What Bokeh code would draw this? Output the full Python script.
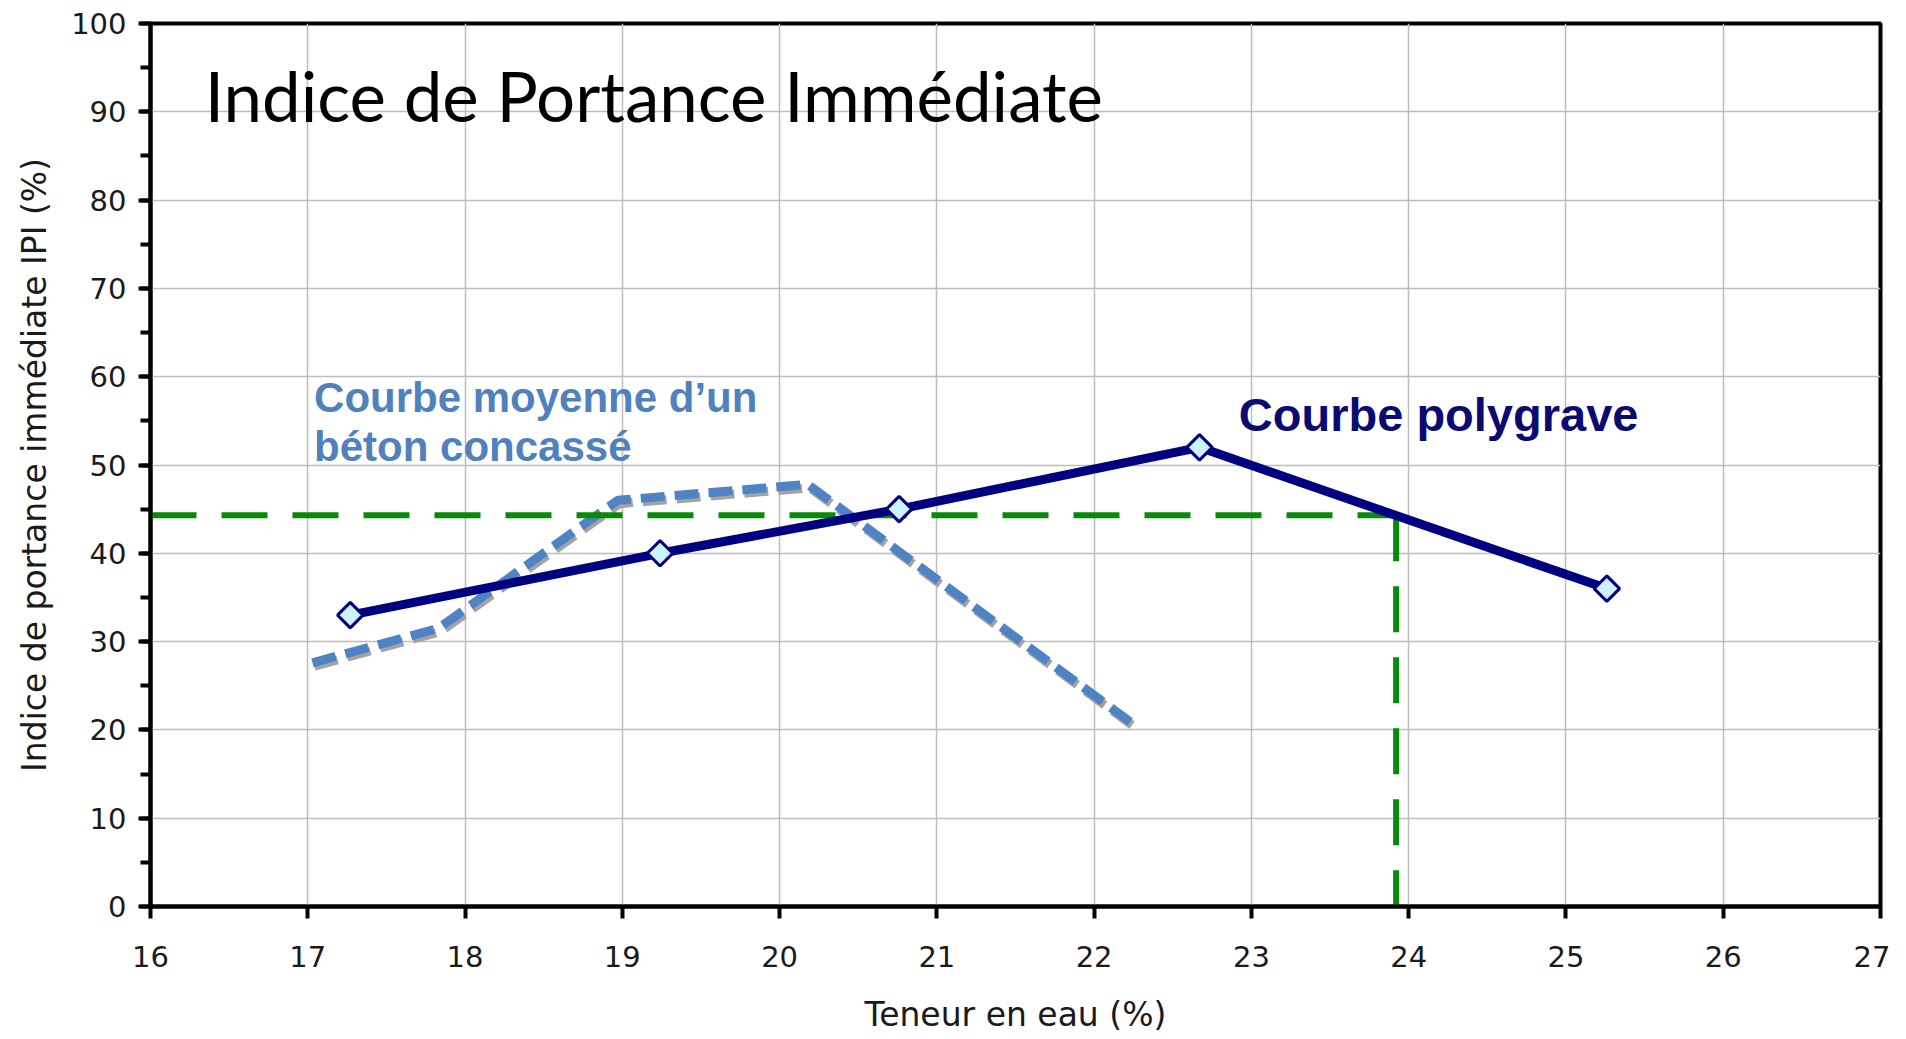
from bokeh.plotting import figure
from bokeh.models import Range1d, FixedTicker, SingleIntervalTicker, Label
from bokeh.embed import file_html
from bokeh.resources import INLINE
import math

# ---- data ----
x_ticks = [16, 17, 18, 19, 20, 21, 22, 23, 24, 25, 26, 27]
y_ticks = [0, 10, 20, 30, 40, 50, 60, 70, 80, 90, 100]

poly_x = [17.27, 19.24, 20.76, 22.67, 25.26]
poly_y = [33.0, 40.0, 45.0, 52.0, 36.0]

beton_x = [17.03, 17.83, 18.97, 20.18, 22.23]
beton_y = [27.6, 31.5, 46.0, 47.8, 20.9]

# green reference: horizontal segment then vertical segment
ref_xs = [[16.0, 23.92], [23.92, 23.92]]
ref_ys = [[44.3, 44.3], [44.3, 0.0]]

title_text = "Indice de Portance Immédiate"
label_beton = ["Courbe moyenne d\u2019un", "béton concassé"]
label_poly = "Courbe polygrave"

p = figure(width=1890, height=1039, output_backend="svg", toolbar_location=None,
           x_range=Range1d(16, 27), y_range=Range1d(0, 100),
           min_border_left=150, min_border_right=10, min_border_top=23, min_border_bottom=133)
p.background_fill_color = "white"
p.border_fill_color = "white"
p.outline_line_color = "black"
p.outline_line_width = 4

# shadow ranges (shift the same data a few pixels right/down)
p.extra_x_ranges = {"shadow": Range1d(15.988, 26.988)}
p.extra_y_ranges = {"shadow": Range1d(0.38, 100.38)}

p.xaxis.ticker = FixedTicker(ticks=x_ticks)
p.yaxis.ticker = SingleIntervalTicker(interval=10, num_minor_ticks=2)

for ax in (p.xaxis, p.yaxis):
    ax.axis_line_color = "black"
    ax.axis_line_width = 4
    ax.major_tick_line_color = "black"
    ax.major_tick_line_width = 4
    ax.major_tick_in = 0
    ax.major_tick_out = 12
    ax.minor_tick_line_color = "black"
    ax.minor_tick_line_width = 4
    ax.minor_tick_in = 0
    ax.minor_tick_out = 10
    ax.major_label_text_font = "DejaVu Sans"
    ax.major_label_text_font_size = "29px"
    ax.major_label_text_color = "#1a1a1a"
    ax.axis_label_text_font = "DejaVu Sans"
    ax.axis_label_text_font_size = "33px"
    ax.axis_label_text_font_style = "normal"
    ax.axis_label_text_color = "#1a1a1a"

p.xaxis.minor_tick_line_color = None
p.xaxis.major_label_standoff = 27
p.yaxis.major_label_standoff = 12
p.xaxis.axis_label = "Teneur en eau (%)"
p.yaxis.axis_label = "Indice de portance immédiate IPI (%)"
p.xaxis.axis_label_standoff = 25
p.yaxis.axis_label_standoff = 14

p.xgrid.grid_line_color = "#bdbdbd"
p.ygrid.grid_line_color = "#bdbdbd"
p.xgrid.grid_line_width = 1.5
p.ygrid.grid_line_width = 1.5

# béton concassé dashed curve with grey shadow
p.line(beton_x, beton_y, line_color="#a3a3a3", line_width=9, line_dash="24 10",
       x_range_name="shadow", y_range_name="shadow")
p.line(beton_x, beton_y, line_color="#4f83c4", line_width=9, line_dash="24 10")

# green reference lines
p.multi_line(ref_xs, ref_ys, line_color="#0a8a0a", line_width=6, line_dash="46 25")

# polygrave curve
p.line(poly_x, poly_y, line_color="#000080", line_width=9)
p.scatter(poly_x, poly_y, marker="square", size=18, angle=math.pi / 4,
          fill_color="#cdf3ff", line_color="#000080", line_width=3)

# texts
p.add_layout(Label(x=16.345, y=91.85, text=title_text, text_font="Lato",
                   text_font_size="69px", text_color="black", text_baseline="alphabetic"))
p.add_layout(Label(x=17.04, y=57.7, text=label_beton[0], text_font="Liberation Sans",
                   text_font_style="bold", text_font_size="42px", text_color="#4f81bd",
                   text_baseline="alphabetic"))
p.add_layout(Label(x=17.04, y=52.05, text=label_beton[1], text_font="Liberation Sans",
                   text_font_style="bold", text_font_size="42px", text_color="#4f81bd",
                   text_baseline="alphabetic"))
p.add_layout(Label(x=22.92, y=55.7, text=label_poly, text_font="Liberation Sans",
                   text_font_style="bold", text_font_size="47px", text_color="#0a0a70",
                   text_baseline="alphabetic"))

open("out.html", "w").write(file_html(p, INLINE))
